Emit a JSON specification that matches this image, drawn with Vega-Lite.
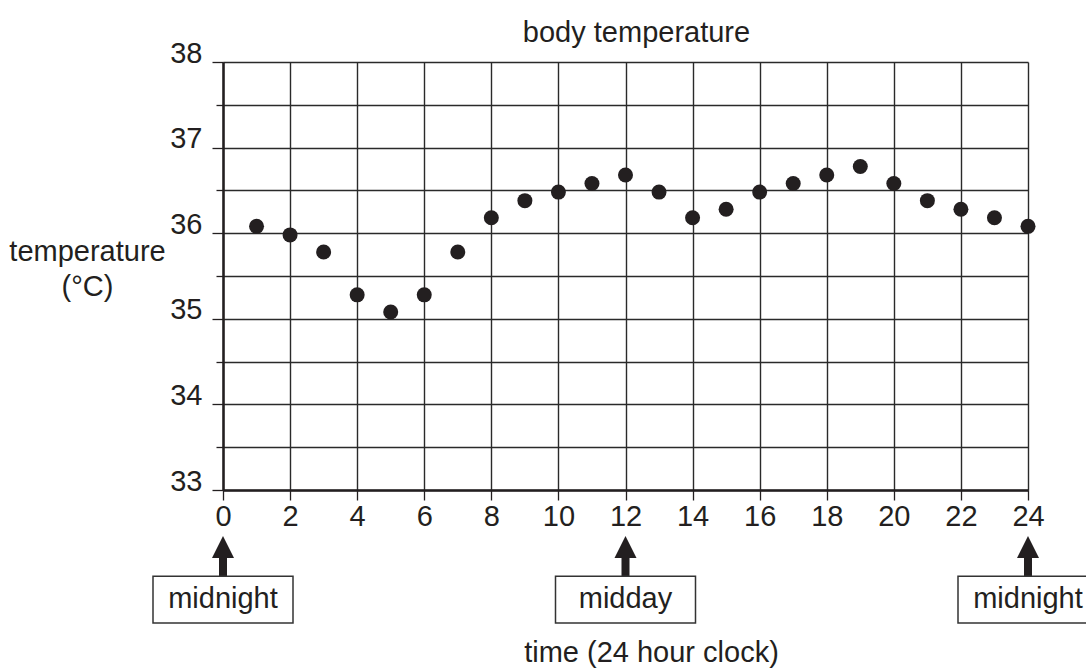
{
  "$schema": "https://vega.github.io/schema/vega-lite/v6.json",
  "width": 805,
  "height": 428,
  "autosize": "none",
  "padding": {"left": 223, "top": 62, "right": 58, "bottom": 181},
  "background": "white",
  "config": {"font": "Liberation Sans", "view": {"stroke": null}},
  "title": {
    "text": "body temperature",
    "fontSize": 29,
    "font": "Liberation Sans",
    "fontWeight": "normal",
    "color": "#231f20",
    "anchor": "middle",
    "frame": "group",
    "dx": 11,
    "dy": 32,
    "baseline": "alphabetic",
    "offset": 0
  },
  "datasets": {
    "temps": [
      {"hour": 1, "temperature": 36.08},
      {"hour": 2, "temperature": 35.98},
      {"hour": 3, "temperature": 35.78},
      {"hour": 4, "temperature": 35.28},
      {"hour": 5, "temperature": 35.08},
      {"hour": 6, "temperature": 35.28},
      {"hour": 7, "temperature": 35.78},
      {"hour": 8, "temperature": 36.18},
      {"hour": 9, "temperature": 36.38},
      {"hour": 10, "temperature": 36.48},
      {"hour": 11, "temperature": 36.58},
      {"hour": 12, "temperature": 36.68},
      {"hour": 13, "temperature": 36.48},
      {"hour": 14, "temperature": 36.18},
      {"hour": 15, "temperature": 36.28},
      {"hour": 16, "temperature": 36.48},
      {"hour": 17, "temperature": 36.58},
      {"hour": 18, "temperature": 36.68},
      {"hour": 19, "temperature": 36.78},
      {"hour": 20, "temperature": 36.58},
      {"hour": 21, "temperature": 36.38},
      {"hour": 22, "temperature": 36.28},
      {"hour": 23, "temperature": 36.18},
      {"hour": 24, "temperature": 36.08}
    ],
    "notes": [
      {"hour": 0, "label": "midnight"},
      {"hour": 12, "label": "midday"},
      {"hour": 24, "label": "midnight"}
    ]
  },
  "layer": [
    {
      "data": {"name": "temps"},
      "mark": {"type": "point", "shape": "circle", "filled": true, "size": 225, "color": "#231f20", "opacity": 1},
      "encoding": {
        "x": {
          "field": "hour",
          "type": "quantitative",
          "scale": {"domain": [0, 24], "nice": false, "zero": false},
          "axis": {
            "values": [0,1,2,3,4,5,6,7,8,9,10,11,12,13,14,15,16,17,18,19,20,21,22,23,24],
            "title": "time (24 hour clock)",
            "titleX": 428,
            "titleY": 171,
            "titleAlign": "center",
            "titleBaseline": "alphabetic",
            "titleFontSize": 29,
            "titleFontWeight": "normal",
            "titleColor": "#231f20",
            "labelExpr": "datum.value % 2 === 0 ? format(datum.value, 'd') : ''",
            "labelFontSize": 29,
            "labelColor": "#231f20",
            "labelPadding": 2,
            "labelBaseline": "top",
            "labelFlush": false,
            "labelOverlap": false,
            "tickSize": {"condition": {"test": "datum.value % 2 === 0", "value": 10}, "value": 7},
            "tickColor": "#231f20",
            "tickWidth": 1.3,
            "domainColor": "#231f20",
            "domainWidth": 2.5,
            "grid": true,
            "gridColor": "#2a2a2a",
            "gridWidth": 1.4,
            "gridOpacity": 1
          }
        },
        "y": {
          "field": "temperature",
          "type": "quantitative",
          "scale": {"domain": [33, 38], "nice": false, "zero": false},
          "axis": {
            "values": [33, 33.5, 34, 34.5, 35, 35.5, 36, 36.5, 37, 37.5, 38],
            "title": ["temperature", "(°C)"],
            "titleAngle": 0,
            "titleX": -136,
            "titleY": 198,
            "titleAlign": "center",
            "titleBaseline": "alphabetic",
            "titleLineHeight": 35,
            "titleFontSize": 29,
            "titleFontWeight": "normal",
            "titleColor": "#231f20",
            "labelExpr": "datum.value % 1 === 0 ? format(datum.value, 'd') : ''",
            "labelFontSize": 29,
            "labelColor": "#231f20",
            "labelPadding": 10,
            "labelBaseline": "alphabetic",
            "labelOverlap": false,
            "labelFlush": false,
            "tickSize": {"condition": {"test": "datum.value % 1 === 0", "value": 11}, "value": 7},
            "tickColor": "#231f20",
            "tickWidth": 1.3,
            "domainColor": "#231f20",
            "domainWidth": 2.5,
            "grid": true,
            "gridColor": "#2a2a2a",
            "gridWidth": 1.4,
            "gridOpacity": 1
          }
        }
      }
    },
    {
      "data": {"name": "notes"},
      "mark": {"type": "point", "shape": "M0,-1L0.55,0.1L0.2,0.1L0.2,1L-0.2,1L-0.2,0.1L-0.55,0.1Z", "size": 1600, "filled": true, "color": "#231f20", "opacity": 1},
      "encoding": {
        "x": {"field": "hour", "type": "quantitative"},
        "y": {"datum": 32.23, "type": "quantitative"}
      }
    },
    {
      "data": {"name": "notes"},
      "mark": {"type": "point", "shape": "M-1,-0.333H1V0.333H-1Z", "size": 19600, "filled": false, "color": "#333333", "strokeWidth": 1.5, "opacity": 1},
      "encoding": {
        "x": {"field": "hour", "type": "quantitative"},
        "y": {"datum": 31.72, "type": "quantitative"}
      }
    },
    {
      "data": {"name": "notes"},
      "mark": {"type": "text", "fontSize": 29, "font": "Liberation Sans", "color": "#231f20", "align": "center", "baseline": "alphabetic"},
      "encoding": {
        "x": {"field": "hour", "type": "quantitative"},
        "y": {"datum": 31.62, "type": "quantitative"},
        "text": {"field": "label"}
      }
    }
  ]
}
